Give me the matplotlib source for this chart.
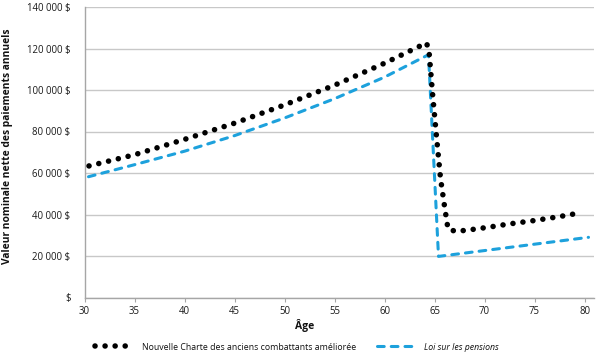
import matplotlib
matplotlib.use("Agg")
import matplotlib.pyplot as plt
from matplotlib.lines import Line2D
from matplotlib.transforms import ScaledTranslation

# Data
age_nc = [30.45, 35, 40, 45, 50, 55, 60, 63.3, 64.2, 64.45, 64.8, 65.2, 65.6, 66.0, 66.35, 67.1, 68.2, 70.3, 72.4, 75, 77.5, 79.7]
val_nc = [63400, 68800, 76200, 84000, 92800, 102300, 112900, 120600, 122700, 118800, 98500, 77500, 57500, 44000, 33000, 31900, 32400, 33800, 35400, 37100, 39000, 40900]

age_lp = [30.4, 35, 40, 45, 50, 55, 60, 64.4, 65.4, 80.4]
val_lp = [58200, 64000, 70500, 78000, 86500, 95800, 106200, 117000, 19800, 29000]

xticks = [30, 35, 40, 45, 50, 55, 60, 65, 70, 75, 80]
yticks = [0, 20000, 40000, 60000, 80000, 100000, 120000, 140000]
ytick_labels = ["$", "20 000 $", "40 000 $", "60 000 $", "80 000 $", "100 000 $", "120 000 $", "140 000 $"]

label_nc = "Nouvelle Charte des anciens combattants améliorée"
label_lp = "Loi sur les pensions"
xlabel = "Âge"
ylabel = "Valeur nominale nette des paiements annuels"

FONT = "Open Sans"
plt.rcParams['font.family'] = [FONT, 'DejaVu Sans']

fig = plt.figure(figsize=(6, 3.6), dpi=100)
ax = fig.add_axes([84.5 / 600, 1 - 297.5 / 360, (593.5 - 84.5) / 600, (297.5 - 7) / 360])

blue = "#1DA1DC"
dot_style = (0, (0.01, 1.8))
dash_style = (0, (2.2, 2.3))
ax.plot(age_lp, val_lp, color=blue, lw=2.2, linestyle=dash_style,
        dash_capstyle='round', zorder=3, label=label_lp)
ax.plot(age_nc, val_nc, color="black", lw=4.0, linestyle=dot_style,
        dash_capstyle='round', zorder=4, label=label_nc)

ax.set_xlim(30, 80.9)
ax.set_ylim(0, 140000)
ax.set_xticks(xticks)
ax.set_xticklabels([str(t) for t in xticks], fontsize=6.9, color="#1a1a1a")
ax.set_yticks(yticks)
ax.set_yticklabels(ytick_labels, fontsize=6.9, color="#1a1a1a")
for lab in ax.get_xticklabels():
    lab.set_transform(lab.get_transform() + ScaledTranslation(4.5 / 100, 0, fig.dpi_scale_trans))

ax.grid(axis='y', color="#C8C8C8", lw=1.0)
ax.set_axisbelow(True)
for s in ["top", "right"]:
    ax.spines[s].set_visible(False)
for s in ["left", "bottom"]:
    ax.spines[s].set_color("#A6A6A6")
    ax.spines[s].set_linewidth(1.0)
ax.tick_params(axis='x', direction='out', length=3, width=0.8, color="#A6A6A6", pad=3)
ax.tick_params(axis='y', length=0, pad=10)

fig.text(305 / 600, 1 - 325 / 360, xlabel, ha='center', va='center',
         fontsize=7.5, fontweight='bold', color="#111111")
fig.text(8 / 600, 1 - 146 / 360, ylabel, ha='center', va='center', rotation=90,
         fontsize=7.4, fontweight='bold', color="#111111")

h_nc = Line2D([0], [0], color="black", lw=4.0, linestyle=dot_style, dash_capstyle='round')
h_lp = Line2D([0], [0], color=blue, lw=2.2, linestyle=dash_style, dash_capstyle='round')
leg = fig.legend([h_nc, h_lp], [label_nc, label_lp], ncol=2, loc='center',
                 bbox_to_anchor=(297 / 600, 1 - 347 / 360), frameon=False,
                 fontsize=6.3, handlelength=4.6, handletextpad=0.8, columnspacing=2.3)
leg.get_texts()[1].set_fontstyle('italic')
for t in leg.get_texts():
    t.set_color("#111111")

fig.savefig("out.png", dpi=100)
